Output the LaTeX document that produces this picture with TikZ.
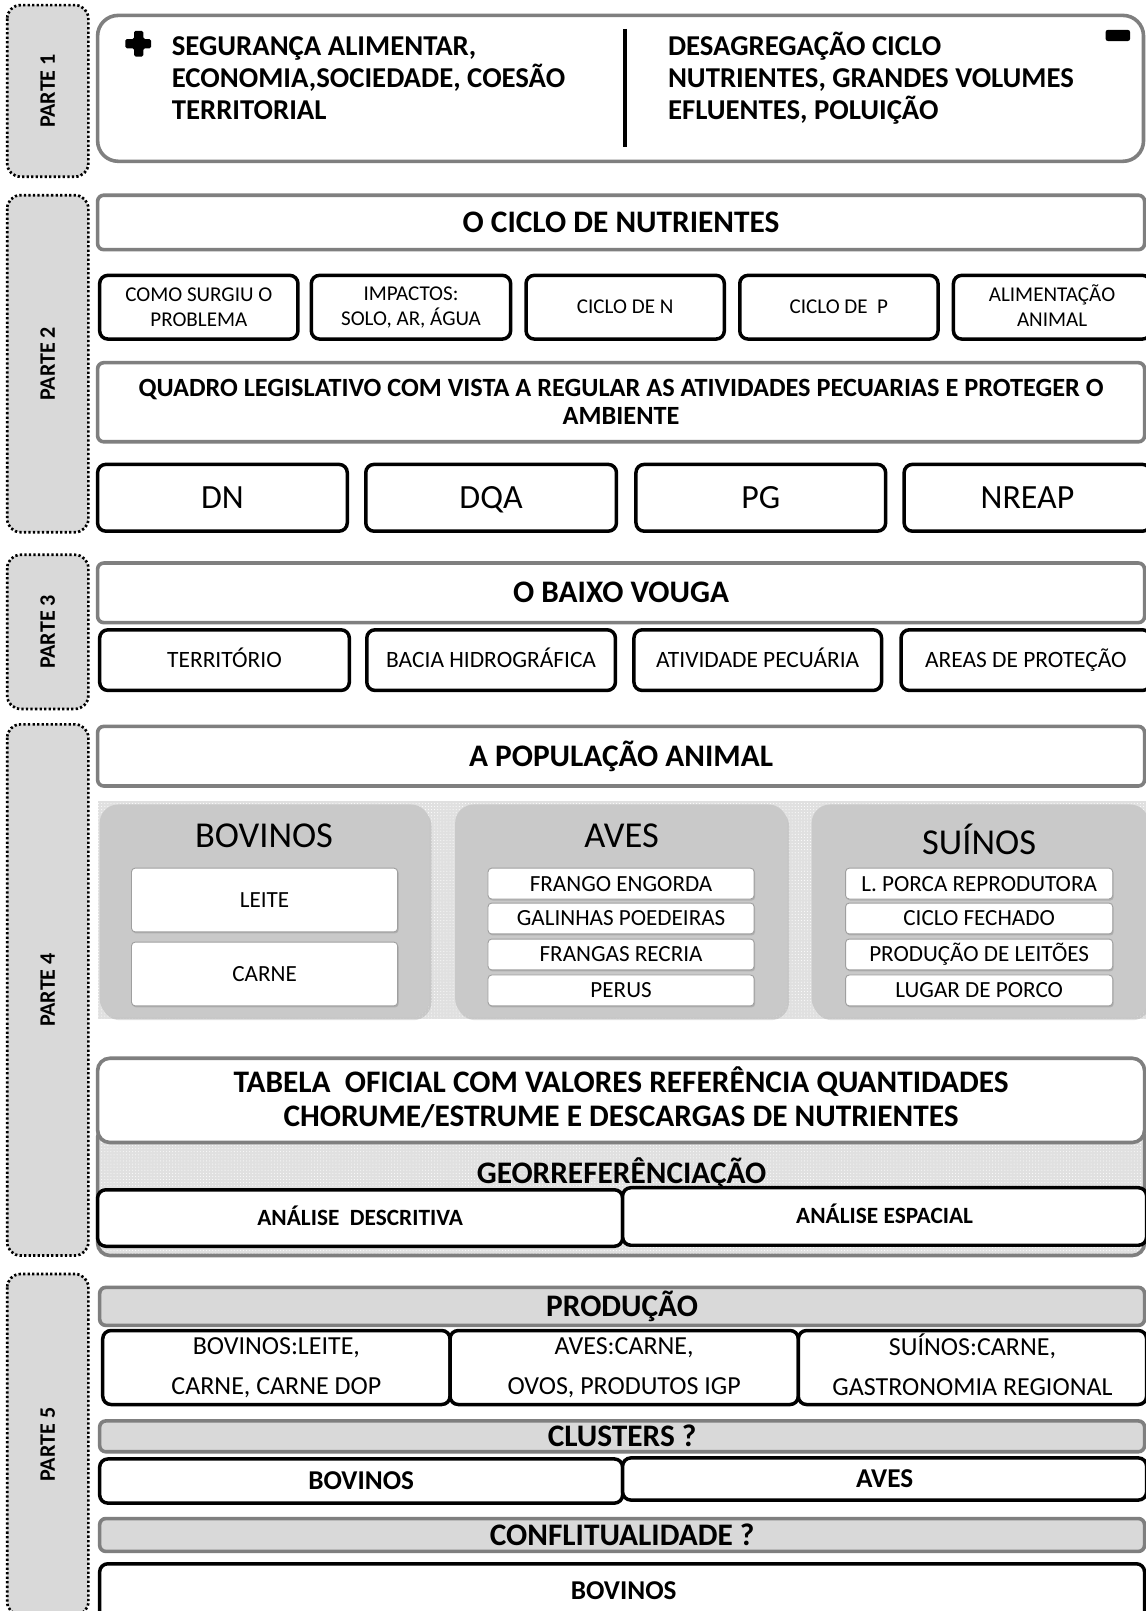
\documentclass[tikz,border=0pt]{standalone}
\usepackage{fontspec}
\setmainfont{Carlito}
\usetikzlibrary{shadows,patterns}

\definecolor{edgegray}{HTML}{7F7F7F}
\definecolor{partfill}{HTML}{D9D9D9}
\definecolor{panelfill}{HTML}{C9C9C9}
\definecolor{bandfill}{HTML}{D9D9D9}
\definecolor{dotbase}{HTML}{E0E0E0}

% type sizes
\newcommand{\ftpone}{\fontsize{28}{31}\selectfont\bfseries}
\newcommand{\fthead}{\fontsize{30.5}{33}\selectfont\bfseries}
\newcommand{\ftsub}{\fontsize{20.5}{24}\selectfont}
\newcommand{\ftquadro}{\fontsize{25.6}{27}\selectfont\bfseries}
\newcommand{\ftlaw}{\fontsize{33}{36}\selectfont}
\newcommand{\ftzone}{\fontsize{22.8}{26}\selectfont}
\newcommand{\ftspecies}{\fontsize{35.5}{38}\selectfont}
\newcommand{\ftitem}{\fontsize{22.5}{25}\selectfont}
\newcommand{\ftanal}{\fontsize{22.7}{25}\selectfont\bfseries}
\newcommand{\ftprod}{\fontsize{25.3}{39}\selectfont}
\newcommand{\ftclus}{\fontsize{26.5}{29}\selectfont\bfseries}
\newcommand{\ftparte}{\fontsize{21.5}{24}\selectfont\bfseries}

% one line of capitals whose box is exactly the cap height, so it centres optically
\newcommand{\capc}[1]{\raisebox{0pt}[0.644em][0pt]{#1}}

% box from its corners: style, name, x1, y1, x2, y2, text
\newcommand{\boxat}[7]{\node[#1, minimum width={#5-#3}, minimum height={#6-#4}] (#2) at ({(#3+#5)/2},{(#4+#6)/2}) {#7};}
% side label: name, text, y1, y2
\newcommand{\partat}[4]{\node[partbox, minimum width={#4-#3}, minimum height=79] (#1) at (46.5,{(#3+#4)/2}) {\capc{#2}};}

\begin{document}
\begin{tikzpicture}[x=1pt,y=-1pt,
  graybox/.style={draw=edgegray, line width=3.5pt, rounded corners=6pt, fill=white, inner sep=0pt},
  blackbox/.style={draw=black, line width=3.4pt, rounded corners=8pt, fill=white, inner sep=0pt},
  partbox/.style={draw=black, line width=2.6pt, dash pattern=on 2.2pt off 2.2pt, fill=partfill,
    rounded corners=13pt, inner sep=0pt, rotate=90, font=\ftparte},
  panelbox/.style={fill=panelfill, rounded corners=18pt, inner sep=0pt,
    drop shadow={shadow xshift=2pt, shadow yshift=-3pt, opacity=0.25}},
  itembox/.style={fill=white, draw=gray!75, line width=0.9pt, rounded corners=3.5pt, inner sep=0pt,
    font=\ftitem, drop shadow={shadow xshift=1pt, shadow yshift=-1.5pt, opacity=0.35}},
  bandbox/.style={draw=edgegray, line width=3.5pt, rounded corners=6pt, fill=bandfill, inner sep=0pt},
  dotband/.style={preaction={fill=dotbase}, pattern=dots, pattern color=white},
  caption/.style={inner sep=0pt},
]
\useasboundingbox (0,0) rectangle (1115,1568);
\fill[white] (0,0) rectangle (1115,1568);

% ---------------- side labels
\partat{parte1}{PARTE 1}{5}{172}
\partat{parte2}{PARTE 2}{190}{518}
\partat{parte3}{PARTE 3}{540}{690}
\partat{parte4}{PARTE 4}{705}{1222}
\partat{parte5}{PARTE 5}{1240}{1572}

% ---------------- part 1
\boxat{graybox, rounded corners=20pt}{tema}{95}{15}{1113}{157}{}
\fill[rounded corners=1.5pt] (130.5,30) -- (139.5,30) -- (139.5,38) -- (147,38) -- (147,47)
  -- (139.5,47) -- (139.5,55) -- (130.5,55) -- (130.5,47) -- (122,47) -- (122,38) -- (130.5,38) -- cycle;
\fill[rounded corners=2.5pt] (1076,29) rectangle (1100,40);
\node[caption, anchor=base west, align=left, font=\ftpone] (pros) at (167,116)
  {SEGURANÇA ALIMENTAR,\\ECONOMIA,SOCIEDADE, COESÃO\\TERRITORIAL};
\node[caption, anchor=base west, align=left, font=\ftpone] (contras) at (650,116)
  {DESAGREGAÇÃO CICLO\\NUTRIENTES, GRANDES VOLUMES\\EFLUENTES, POLUIÇÃO};
\coordinate (divtop) at (608,28);
\coordinate (divbot) at (608,143);
\draw[line width=4pt] (divtop) -- (divbot);

% ---------------- part 2
\boxat{graybox, font=\fthead}{ciclo}{95}{190}{1114}{243}{\capc{O CICLO DE NUTRIENTES}}
\boxat{blackbox, font=\ftsub, align=center}{surgiu}{97}{268}{290}{330}{COMO SURGIU O\\PROBLEMA}
\boxat{blackbox, font=\ftsub, align=center}{impactos}{303}{268}{497}{330}{IMPACTOS:\\SOLO, AR, ÁGUA}
\boxat{blackbox, font=\ftsub}{ciclon}{512}{268}{705}{330}{\capc{CICLO DE N}}
\boxat{blackbox, font=\ftsub}{ciclop}{720}{268}{913}{330}{\capc{CICLO DE\ \ P}}
\boxat{blackbox, font=\ftsub, align=center}{alim}{928}{268}{1120}{330}{ALIMENTA\smash{ÇÃ}O\\ANIMAL}
\boxat{graybox, font=\ftquadro, align=center}{quadro}{95}{353}{1114}{430}
  {QUADRO LEGISLATIVO COM VISTA A REGULAR AS ATIVIDADES PECUARIAS E PROTEGER O\\AMBIENTE}
\boxat{blackbox, font=\ftlaw}{dn}{95}{452}{338}{517}{\capc{DN}}
\boxat{blackbox, font=\ftlaw}{dqa}{356}{452}{600}{517}{\capc{DQA}}
\boxat{blackbox, font=\ftlaw}{pg}{619}{452}{862}{517}{\capc{PG}}
\boxat{blackbox, font=\ftlaw}{nreap}{880}{452}{1120}{517}{\capc{NREAP}}

% ---------------- part 3
\boxat{graybox, font=\fthead}{vouga}{95}{548}{1114}{606}{\capc{O BAIXO VOUGA}}
\boxat{blackbox, font=\ftzone}{territorio}{97}{613}{340}{672}{\capc{TERRITÓRIO}}
\boxat{blackbox, font=\ftzone}{bacia}{357}{613}{599}{672}{\capc{BACIA HIDROGRÁFICA}}
\boxat{blackbox, font=\ftzone}{atividade}{617}{613}{858}{672}{\capc{ATIVIDADE PECUÁRIA}}
\boxat{blackbox, font=\ftzone}{areas}{877}{613}{1120}{672}{\capc{AREAS DE PROTEÇÃO}}

% ---------------- part 4
\boxat{graybox, font=\fthead}{populacao}{95}{707}{1114}{765}{\capc{A POPULAÇÃO ANIMAL}}
\boxat{dotband, inner sep=0pt}{especies}{95}{780}{1115}{992}{}
\boxat{panelbox}{bovpanel}{97}{783}{418}{990}{}
\boxat{panelbox}{avepanel}{443}{783}{766}{990}{}
\boxat{panelbox}{suipanel}{790}{783}{1118}{990}{}
\node[caption, font=\ftspecies] (bovtitle) at (257,813) {\capc{BOVINOS}};
\node[caption, font=\ftspecies] (avetitle) at (605,813) {\capc{AVES}};
\node[caption, font=\ftspecies] (suititle) at (953,820) {\capc{SUÍNOS}};
\boxat{itembox}{leite}{128}{845}{387}{907}{\capc{LEITE}}
\boxat{itembox}{carne}{128}{917}{387}{979}{\capc{CARNE}}
\boxat{itembox}{frango}{475}{845}{734}{875}{\capc{FRANGO ENGORDA}}
\boxat{itembox}{galinhas}{475}{879}{734}{909}{\capc{GALINHAS POEDEIRAS}}
\boxat{itembox}{frangas}{475}{914}{734}{944}{\capc{FRANGAS RECRIA}}
\boxat{itembox}{perus}{475}{949}{734}{979}{\capc{PERUS}}
\boxat{itembox}{porca}{823}{845}{1083}{875}{\capc{L. PORCA REPRODUTORA}}
\boxat{itembox}{fechado}{823}{879}{1083}{909}{\capc{CICLO FECHADO}}
\boxat{itembox}{leitoes}{823}{914}{1083}{944}{\capc{PRODUÇÃO DE LEITÕES}}
\boxat{itembox}{lugar}{823}{949}{1083}{979}{\capc{LUGAR DE PORCO}}

\boxat{graybox, dotband, rounded corners=12pt}{georref}{95}{1095}{1114}{1222}{}
\boxat{graybox, rounded corners=12pt, font=\fthead, align=center}{tabela}{95}{1030}{1114}{1112}
  {TABELA\ \ OFICIAL COM VALORES REFER\smash{Ê}NCIA QUANTIDADES\\CHORUME/ESTRUME E DESCARGAS DE NUTRIENTES}
\node[caption, font=\fthead] (georreftxt) at (605,1142) {\capc{GEORREFERÊNCIAÇÃO}};
\boxat{blackbox, font=\ftanal}{descritiva}{95}{1158}{606}{1213}{\capc{ANÁLISE\ \ DESCRITIVA}}
\boxat{blackbox, font=\ftanal}{espacial}{606}{1156}{1116}{1212}{\capc{ANÁLISE ESPACIAL}}

% ---------------- part 5
\boxat{bandbox, font=\fthead}{producao}{97}{1253}{1114}{1290}{\capc{PRODUÇÃO}}
\boxat{blackbox, font=\ftprod, align=center}{prodbov}{100}{1295}{438}{1367}{BOVINOS:LEITE,\\CARNE, CARNE DOP}
\boxat{blackbox, font=\ftprod, align=center}{prodave}{438}{1295}{777}{1367}{AVES:CARNE,\\OVOS, PRODUTOS IGP}
\boxat{blackbox, font=\ftprod, align=center}{prodsui}{777}{1295}{1116}{1367}{SU\smash{Í}NOS:CARNE,\\GASTRONOMIA REGIONAL}
\boxat{bandbox, font=\fthead}{clusters}{97}{1383}{1114}{1413}{\capc{CLUSTERS ?}}
\boxat{blackbox, font=\ftclus}{clusbov}{97}{1420}{606}{1463}{\capc{BOVINOS}}
\boxat{blackbox, font=\ftclus}{clusave}{606}{1419}{1116}{1460}{\capc{AVES}}
\boxat{bandbox, font=\fthead}{conflito}{97}{1478}{1114}{1510}{\capc{CONFLITUALIDADE ?}}
\boxat{blackbox}{confbov}{97}{1522}{1114}{1610}{}
\node[caption, font=\ftclus] (confbovtxt) at (607,1548) {\capc{BOVINOS}};
\end{tikzpicture}
\end{document}
